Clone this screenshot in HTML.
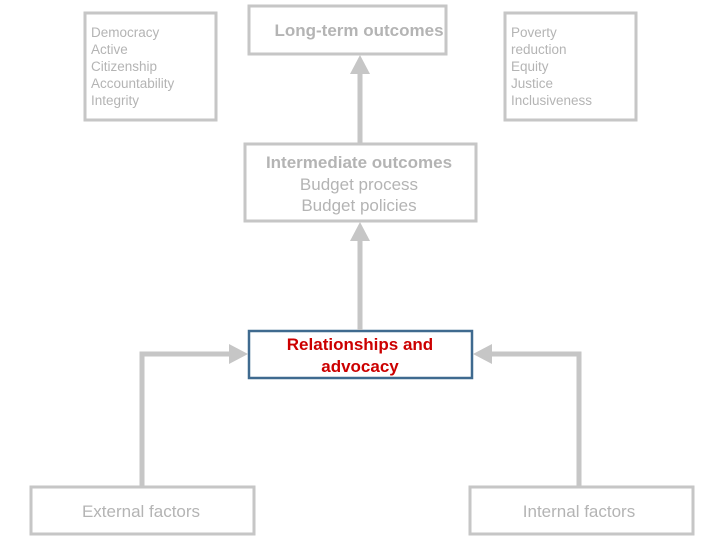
<!DOCTYPE html>
<html><head><style>
body{margin:0;width:720px;height:540px;background:#fff;overflow:hidden}
svg{display:block}
text{font-family:"Liberation Sans",Arial,sans-serif}
</style></head><body>
<svg width="720" height="540" viewBox="0 0 720 540">
<g fill="none" stroke="#c6c6c6" stroke-width="3">
<rect x="85" y="13" width="131" height="107"/>
<rect x="249" y="6" width="197" height="48"/>
<rect x="505" y="13" width="131" height="107"/>
<rect x="245" y="144" width="231" height="77"/>
<rect x="31" y="487" width="223" height="47"/>
<rect x="470" y="487" width="223" height="47"/>
</g>
<rect x="249" y="331" width="223" height="47" fill="none" stroke="#3f6a8f" stroke-width="2.5"/>
<g stroke="#c6c6c6" stroke-width="5" fill="none">
<line x1="360" y1="143" x2="360" y2="72"/>
<line x1="360" y1="330" x2="360" y2="240"/>
<polyline points="142,486 142,354 232,354"/>
<polyline points="579,486 579,354 490,354"/>
</g>
<g fill="#c6c6c6">
<polygon points="360,55 350,74 370,74"/>
<polygon points="360,222 350,241 370,241"/>
<polygon points="248,354 229,344 229,364"/>
<polygon points="473,354 492,344 492,364"/>
</g>
<g fill="#b4b4b4" font-size="13.5">
<text x="91" y="37">Democracy</text>
<text x="91" y="54">Active</text>
<text x="91" y="71">Citizenship</text>
<text x="91" y="88">Accountability</text>
<text x="91" y="105">Integrity</text>
<text x="511" y="37">Poverty</text>
<text x="511" y="54">reduction</text>
<text x="511" y="71">Equity</text>
<text x="511" y="88">Justice</text>
<text x="511" y="105">Inclusiveness</text>
</g>
<g fill="#b4b4b4" text-anchor="middle">
<text x="359" y="36" font-size="17" font-weight="bold">Long-term outcomes</text>
<text x="359" y="168" font-size="17" font-weight="bold">Intermediate outcomes</text>
<text x="359" y="190" font-size="17">Budget process</text>
<text x="359" y="211" font-size="17">Budget policies</text>
<text x="141" y="517" font-size="17">External factors</text>
<text x="579" y="517" font-size="17">Internal factors</text>
</g>
<g fill="#cc0000" text-anchor="middle" font-size="17" font-weight="bold">
<text x="360" y="350">Relationships and</text>
<text x="360" y="372">advocacy</text>
</g>
</svg>
</body></html>
